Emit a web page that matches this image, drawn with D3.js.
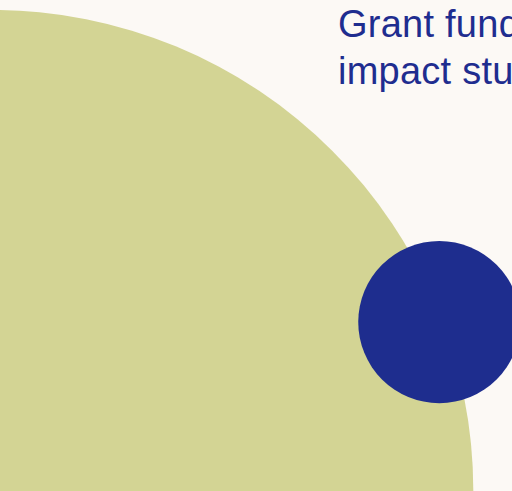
<!DOCTYPE html>
<html>
<head>
<meta charset="utf-8">
<script src="https://cdn.jsdelivr.net/npm/d3@7"></script>
<style>
  html, body { margin: 0; padding: 0; background: #fcf9f5; overflow: hidden; }
  svg { display: block; }
</style>
</head>
<body>
<svg id="chart" width="512" height="491"></svg>
<script>
// bubble data (x / y in chart units, value sets the area)
const categories = ["Core programme", "Grant funded impact studies"];
const xValues = [-1.5, 85.8];
const yValues = [100, 65.6];
const sizeValues = [1000, 28.4];
const labelLines = [[], ["Grant funded", "impact studies"]];
const colours = ["#d3d494", "#1e2d8e"];

const svg = d3.select('#chart');
const width = +svg.attr('width');
const height = +svg.attr('height');

svg.append('rect')
  .attr('width', width)
  .attr('height', height)
  .attr('fill', '#fcf9f5');

const xScale = d3.scaleLinear().domain([0, 100]).range([0, width]);
const yScale = d3.scaleLinear().domain([0, 100]).range([0, height]);
const rScale = d3.scaleSqrt().domain([0, 1000]).range([0, 481]);

const data = categories.map((name, i) => ({
  name: name,
  x: xValues[i],
  y: yValues[i],
  value: sizeValues[i],
  lines: labelLines[i],
  colour: colours[i]
}));

svg.selectAll('.bubble')
  .data(data)
  .enter()
  .append('circle')
  .attr('class', 'bubble')
  .attr('cx', d => xScale(d.x))
  .attr('cy', d => yScale(d.y))
  .attr('r', d => rScale(d.value))
  .attr('fill', d => d.colour);

// label sits up and to the left of its bubble
const labelX = d => xScale(d.x) - rScale(d.value) * 1.25;

const labels = svg.selectAll('.label')
  .data(data.filter(d => d.lines.length))
  .enter()
  .append('text')
  .attr('class', 'label')
  .attr('x', labelX)
  .attr('y', d => yScale(d.y) - rScale(d.value) * 3.52)
  .attr('fill', '#1f2d8f')
  .style('font-family', '"Liberation Sans", Arial, sans-serif')
  .style('font-size', '38px')
  .style('letter-spacing', '0.25px');

labels.selectAll('tspan')
  .data(d => d.lines.map(t => ({ t: t, x: labelX(d) })))
  .enter()
  .append('tspan')
  .attr('x', d => d.x)
  .attr('dy', (d, i) => i === 0 ? 0 : 47)
  .text(d => d.t);
</script>
</body>
</html>
